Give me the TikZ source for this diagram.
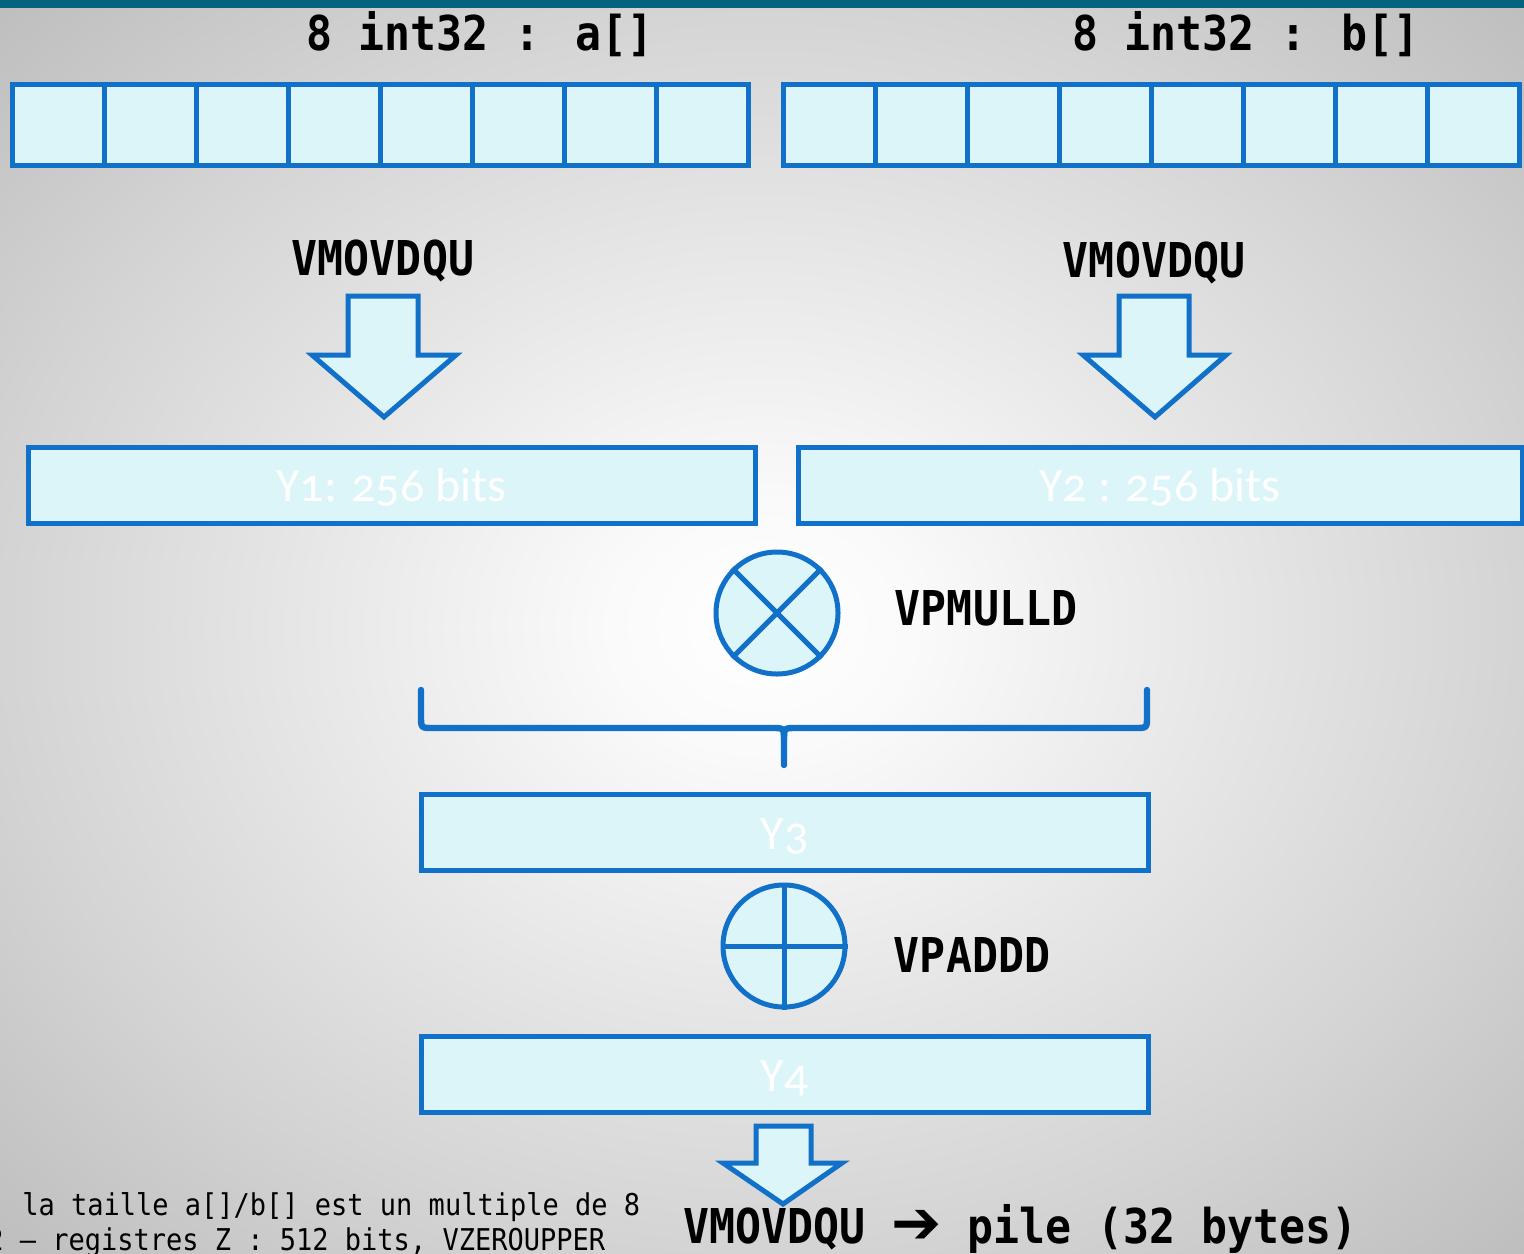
\documentclass[tikz,border=0pt]{standalone}
\usepackage{fontspec}
\newfontfamily\opfont[FakeStretch=0.9]{DejaVu Sans Mono Bold}
\newfontfamily\notefont[FakeStretch=0.9]{DejaVu Sans Mono}
\newfontfamily\regfont[Numbers=OldStyle]{Carlito}
\newfontfamily\symfont{DejaVu Sans}

\definecolor{regblue}{RGB}{17,112,200}
\definecolor{cellfill}{RGB}{220,245,249}
\definecolor{topbar}{RGB}{6,99,126}

\pgfdeclareradialshading{slidebg}{\pgfpointorigin}{color(0bp)=(white); color(5bp)=(white!98!black); color(25bp)=(white!83!black); color(36bp)=(white!74!black); color(50bp)=(white!74!black)}

\tikzset{
	cell/.style={draw=regblue, fill=cellfill, line width=2.5pt},
	regbox/.style={draw=regblue, fill=cellfill, line width=2.5pt, minimum height=38pt, text height=16.5pt, text depth=0pt, inner sep=0pt, font=\regfont\fontsize{24}{29}\selectfont, text=white},
	opcircle/.style={circle, draw=regblue, fill=cellfill, line width=2.5pt, minimum size=61pt, inner sep=0pt},
	oplabel/.style={anchor=base, inner sep=0pt, font=\opfont\fontsize{24}{28}\selectfont},
	notelabel/.style={anchor=base west, inner sep=0pt, font=\notefont\fontsize{15}{18}\selectfont},
	fatarrow/.style={draw=regblue, fill=cellfill, line width=2.5pt, line join=miter},
	bluebrace/.style={draw=regblue, line width=3.2pt, line cap=round}
}

\begin{document}
\begin{tikzpicture}[x=0.5pt,y=0.5pt,yscale=-1,xscale=1]
	\useasboundingbox (0,0) rectangle (1524,1253);
	\clip (0,0) rectangle (1524,1253);

	%Background
	\shade[shading=slidebg] (0,0) rectangle (1524,1253);
	\fill[topbar] (0,0) rectangle (1524,8);

	%Arrays a[] and b[]
	\foreach \i in {0,...,7} {
		\draw[cell] ({12+92*\i},84) rectangle ++(92,81);
		\draw[cell] ({783+92*\i},84) rectangle ++(92,81);
	}
	\node[oplabel] (alabel) at (480,50) {8 int32 : a[]};
	\node[oplabel] (blabel) at (1246,50) {8 int32 : b[]};

	%Loads
	\node[oplabel] (movA) at (383,275) {VMOVDQU};
	\node[oplabel] (movB) at (1154,277) {VMOVDQU};
	\draw[fatarrow] (348,296) -- (418,296) -- (418,355) -- (456,355) -- (384,417) -- (312,355) -- (348,355) -- cycle;
	\draw[fatarrow] (1119,296) -- (1189,296) -- (1189,355) -- (1226,355) -- (1155,417) -- (1083,355) -- (1119,355) -- cycle;

	%Registers Y1, Y2
	\node[regbox, minimum width=363.5pt] (Y1) at (391.5,485) {Y1: 256 bits};
	\node[regbox, minimum width=362pt] (Y2) at (1160,485) {Y2 : 256 bits};

	%Multiply
	\node[opcircle] (mul) at (777,613) {};
	\draw[regblue, line width=2.5pt] (mul.north west) -- (mul.south east) (mul.north east) -- (mul.south west);
	\node[oplabel] (mullabel) at (986,625) {VPMULLD};

	%Brace
	\draw[bluebrace] (421,690) -- (421,716) .. controls (421,728) .. (433,728) -- (772,728) .. controls (784,728) .. (784,740) -- (784,765);
	\draw[bluebrace] (1147,690) -- (1147,716) .. controls (1147,728) .. (1135,728) -- (796,728) .. controls (784,728) .. (784,740);

	%Register Y3
	\node[regbox, minimum width=363.5pt] (Y3) at (784.5,832.5) {Y3};

	%Add
	\node[opcircle] (add) at (784,946) {};
	\draw[regblue, line width=2.5pt] (add.north) -- (add.south) (add.west) -- (add.east);
	\node[oplabel] (addlabel) at (972,972) {VPADDD};

	%Register Y4
	\node[regbox, minimum width=363.5pt] (Y4) at (784.5,1074.5) {Y4};

	%Store
	\draw[fatarrow] (756,1126) -- (811,1126) -- (811,1163) -- (842,1163) -- (783,1204) -- (723,1163) -- (756,1163) -- cycle;
	\node[oplabel, anchor=base west] (store) at (683,1243) {VMOVDQU {\symfont\fontsize{30}{30}\selectfont ➔} pile (32 bytes)};

	%Notes
	\node[notelabel] (note1) at (22,1215) {la taille a[]/b[] est un multiple de 8};
	\node[notelabel] (note2) at (-13,1250) {2 – registres Z : 512 bits, VZEROUPPER};

\end{tikzpicture}
\end{document}
